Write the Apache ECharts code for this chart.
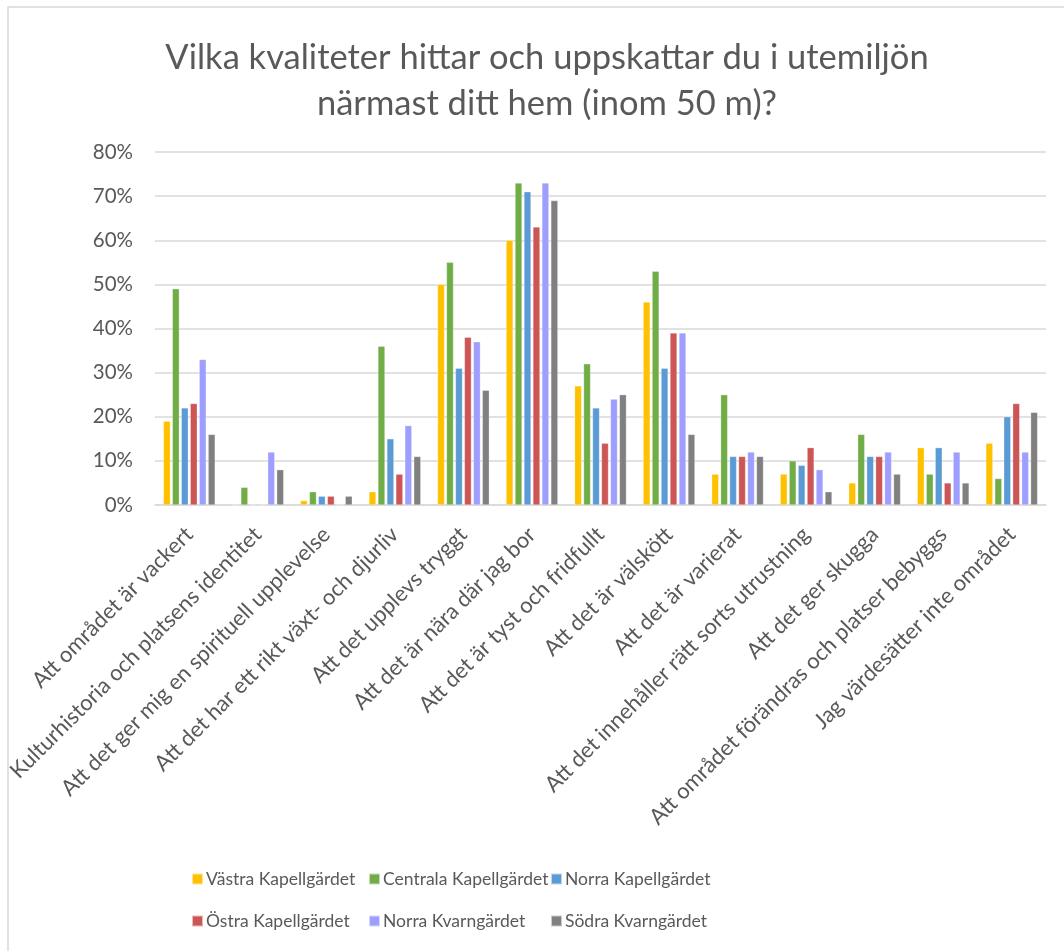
<!DOCTYPE html>
<html>
<head>
<meta charset="utf-8">
<script src="https://cdn.jsdelivr.net/npm/echarts@6/dist/echarts.min.js"></script>
<style>
  html, body { margin: 0; padding: 0; background: #fff; }
  #chart { width: 1064px; height: 951px; }
</style>
</head>
<body>
<div id="chart"></div>
<script>
// kategorier
const categories = [
  'Att området är vackert',
  'Kulturhistoria och platsens identitet',
  'Att det ger mig en spirituell upplevelse',
  'Att det har ett rikt växt- och djurliv',
  'Att det upplevs tryggt',
  'Att det är nära där jag bor',
  'Att det är tyst och fridfullt',
  'Att det är välskött',
  'Att det är varierat',
  'Att det innehåller rätt sorts utrustning',
  'Att det ger skugga',
  'Att området förändras och platser bebyggs',
  'Jag värdesätter inte området'
]
// procent per område
const vastraKapell   = [19, 0, 1, 3, 50, 60, 27, 46, 7, 7, 5, 13, 14]
const centralaKapell = [49, 4, 3, 36, 55, 73, 32, 53, 25, 10, 16, 7, 6]
const norraKapell    = [22, 0, 2, 15, 31, 71, 22, 31, 11, 9, 11, 13, 20]
const ostraKapell    = [23, 0, 2, 7, 38, 63, 14, 39, 11, 13, 11, 5, 23]
const norraKvarn     = [33, 12, 0, 18, 37, 73, 24, 39, 12, 8, 12, 12, 12]
const sodraKvarn     = [16, 8, 2, 11, 26, 69, 25, 16, 11, 3, 7, 5, 21]
const seriesNames = ['Västra Kapellgärdet', 'Centrala Kapellgärdet', 'Norra Kapellgärdet',
  'Östra Kapellgärdet', 'Norra Kvarngärdet', 'Södra Kvarngärdet']
const seriesValues = [vastraKapell, centralaKapell, norraKapell, ostraKapell, norraKvarn, sodraKvarn]
const yTicks = [0, 10, 20, 30, 40, 50, 60, 70, 80]

const font = 'Lato'
const txt = '#595959'
const chart = echarts.init(document.getElementById('chart'))

// legend i tre kolumner, två rader
const legendCol = (names, left) => ({
  data: names,
  orient: 'vertical',
  left: left,
  top: 865,
  itemGap: 24,
  itemWidth: 11,
  itemHeight: 11,
  icon: 'rect',
  textStyle: { fontFamily: font, fontSize: 17.5, color: txt, padding: [0, 0, 0, -2] }
})

chart.setOption({
  animation: false,
  color: ['#FFC000', '#70AD47', '#5B9BD5', '#CD5555', '#9E9EFF', '#808080'],
  title: {
    text: 'Vilka kvaliteter hittar och uppskattar du i utemiljön\nnärmast ditt hem (inom 50 m)?',
    left: 542,
    top: 30,
    textAlign: 'center',
    textStyle: { fontFamily: font, fontSize: 34.5, fontWeight: 'normal', color: txt, lineHeight: 46 }
  },
  graphic: [{
    type: 'rect',
    shape: { x: 8, y: 7, width: 1200, height: 1100 },
    style: { fill: 'none', stroke: '#d9d9d9', lineWidth: 1.5 },
    silent: true
  }],
  legend: [
    legendCol([seriesNames[0], seriesNames[3]], 186),
    legendCol([seriesNames[1], seriesNames[4]], 363),
    legendCol([seriesNames[2], seriesNames[5]], 545)
  ],
  grid: { left: 155, right: 18, top: 152, bottom: 446 },
  xAxis: {
    type: 'category',
    data: categories,
    axisLine: { lineStyle: { color: '#d9d9d9', width: 1.5 } },
    axisTick: { show: false },
    axisLabel: {
      interval: 0,
      rotate: 45,
      margin: 26,
      fontFamily: font,
      fontSize: 22,
      color: txt
    }
  },
  yAxis: {
    type: 'value',
    min: 0,
    max: yTicks[yTicks.length - 1],
    interval: 10,
    axisLine: { show: false },
    axisTick: { show: false },
    splitLine: { lineStyle: { color: '#d9d9d9', width: 1.5 } },
    axisLabel: { formatter: '{value}%', margin: 22, fontFamily: font, fontSize: 20.5, color: txt }
  },
  series: seriesNames.map((name, i) => ({
    name: name,
    type: 'bar',
    data: seriesValues[i],
    barWidth: 7,
    barGap: '28%',
    itemStyle: { borderColor: 'rgba(255,255,255,0.6)', borderWidth: 0.5 }
  }))
})
</script>
</body>
</html>
